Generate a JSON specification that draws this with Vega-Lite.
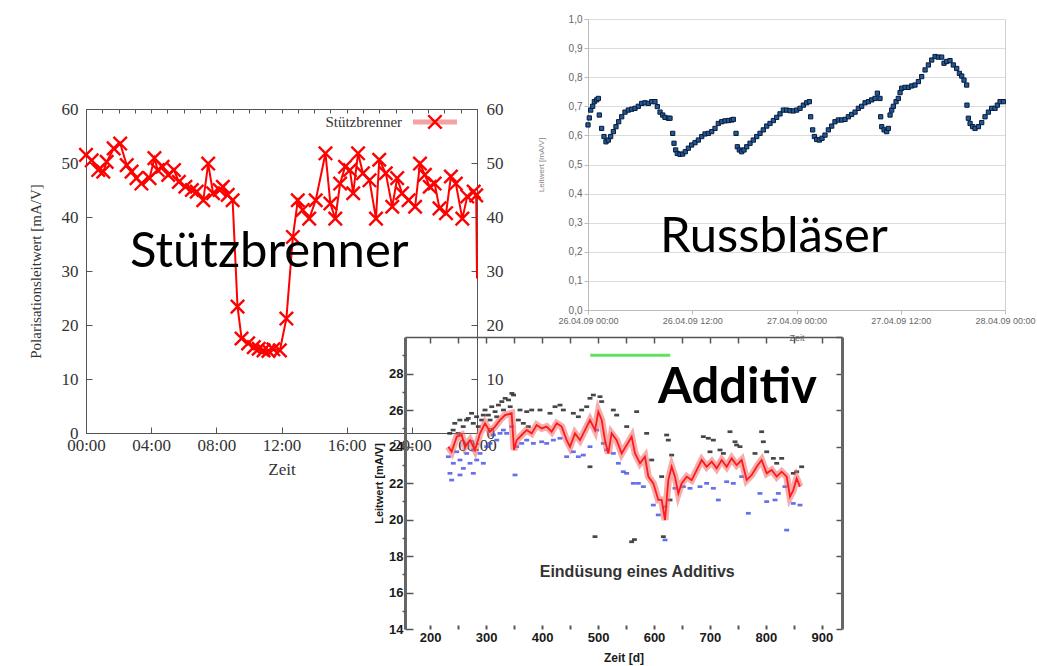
{
  "$schema": "https://vega.github.io/schema/vega-lite/v6.json",
  "width": 1037,
  "height": 666,
  "autosize": {"type": "none"},
  "padding": 0,
  "background": "white",
  "config": {
    "view": {"stroke": null},
    "axis": {"labelFlush": false, "labelOverlap": false, "grid": false}
  },
  "datasets": {
    "stuetz": [
      {"h":0,"v":51.5},{"h":0.35,"v":50.5},{"h":0.75,"v":48.7},{"h":1.06,"v":48.4},{"h":1.27,"v":50.2},{"h":1.7,"v":52.7},{"h":2.1,"v":53.6},{"h":2.5,"v":49.6},{"h":2.8,"v":48.4},{"h":3.1,"v":47.2},{"h":3.4,"v":46.2},{"h":3.9,"v":47.2},{"h":4.2,"v":50.9},{"h":4.4,"v":48.7},{"h":4.7,"v":49.3},{"h":5.05,"v":47.8},{"h":5.4,"v":48.7},{"h":5.7,"v":46.5},{"h":6.1,"v":45.6},{"h":6.5,"v":45.0},{"h":6.8,"v":44.7},{"h":7.2,"v":43.1},{"h":7.5,"v":49.9},{"h":7.8,"v":44.4},{"h":8.2,"v":45.0},{"h":8.4,"v":45.6},{"h":8.7,"v":44.1},{"h":9.0,"v":43.1},{"h":9.3,"v":23.4},{"h":9.55,"v":17.5},{"h":9.95,"v":16.6},{"h":10.3,"v":15.9},{"h":10.6,"v":15.6},{"h":10.9,"v":15.3},{"h":11.2,"v":15.2},{"h":11.5,"v":15.5},{"h":11.9,"v":15.3},{"h":12.3,"v":21.2},{"h":12.7,"v":36.3},{"h":13.0,"v":43.1},{"h":13.3,"v":41.3},{"h":13.7,"v":39.7},{"h":14.1,"v":43.1},{"h":14.7,"v":51.8},{"h":15.0,"v":42.5},{"h":15.3,"v":39.7},{"h":15.6,"v":46.2},{"h":15.9,"v":49.3},{"h":16.2,"v":48.7},{"h":16.4,"v":44.4},{"h":16.7,"v":51.8},{"h":17.0,"v":48.1},{"h":17.4,"v":46.8},{"h":17.8,"v":39.7},{"h":18.0,"v":50.6},{"h":18.4,"v":48.1},{"h":18.8,"v":41.9},{"h":19.1,"v":47.2},{"h":19.4,"v":44.4},{"h":19.8,"v":43.1},{"h":20.2,"v":41.9},{"h":20.5,"v":49.9},{"h":20.8,"v":47.8},{"h":21.1,"v":45.6},{"h":21.4,"v":46.2},{"h":21.7,"v":41.6},{"h":22.1,"v":40.7},{"h":22.4,"v":47.5},{"h":22.7,"v":46.2},{"h":23.1,"v":39.7},{"h":23.4,"v":43.8},{"h":23.8,"v":44.7},{"h":23.95,"v":44.0},{"h":24.0,"v":28.6}
    ],
    "russ": [
      {"h":0.0,"v":0.636},{"h":0.15,"v":0.660},{"h":0.31,"v":0.687},{"h":0.54,"v":0.700},{"h":0.73,"v":0.716},{"h":1.0,"v":0.722},{"h":1.19,"v":0.727},{"h":1.30,"v":0.670},{"h":1.57,"v":0.624},{"h":1.84,"v":0.596},{"h":2.07,"v":0.578},{"h":2.34,"v":0.584},{"h":2.61,"v":0.596},{"h":2.92,"v":0.613},{"h":3.22,"v":0.630},{"h":3.53,"v":0.647},{"h":3.88,"v":0.664},{"h":4.26,"v":0.680},{"h":4.64,"v":0.687},{"h":5.03,"v":0.690},{"h":5.41,"v":0.693},{"h":5.79,"v":0.700},{"h":6.18,"v":0.710},{"h":6.56,"v":0.712},{"h":6.95,"v":0.710},{"h":7.33,"v":0.716},{"h":7.71,"v":0.716},{"h":7.98,"v":0.699},{"h":8.29,"v":0.680},{"h":8.60,"v":0.670},{"h":8.86,"v":0.662},{"h":9.25,"v":0.659},{"h":9.44,"v":0.659},{"h":9.75,"v":0.607},{"h":9.90,"v":0.573},{"h":10.09,"v":0.550},{"h":10.28,"v":0.538},{"h":10.59,"v":0.535},{"h":10.90,"v":0.536},{"h":11.20,"v":0.544},{"h":11.55,"v":0.556},{"h":11.93,"v":0.567},{"h":12.32,"v":0.575},{"h":12.70,"v":0.584},{"h":13.09,"v":0.596},{"h":13.47,"v":0.605},{"h":13.85,"v":0.607},{"h":14.24,"v":0.613},{"h":14.62,"v":0.624},{"h":15.00,"v":0.641},{"h":15.39,"v":0.647},{"h":15.77,"v":0.650},{"h":16.16,"v":0.651},{"h":16.54,"v":0.653},{"h":16.73,"v":0.655},{"h":17.04,"v":0.607},{"h":17.19,"v":0.561},{"h":17.42,"v":0.550},{"h":17.69,"v":0.544},{"h":17.96,"v":0.550},{"h":18.27,"v":0.561},{"h":18.65,"v":0.573},{"h":19.03,"v":0.584},{"h":19.42,"v":0.596},{"h":19.80,"v":0.607},{"h":20.18,"v":0.619},{"h":20.57,"v":0.632},{"h":20.95,"v":0.641},{"h":21.34,"v":0.651},{"h":21.72,"v":0.662},{"h":22.10,"v":0.674},{"h":22.49,"v":0.687},{"h":22.87,"v":0.687},{"h":23.25,"v":0.685},{"h":23.64,"v":0.684},{"h":24.02,"v":0.687},{"h":24.41,"v":0.693},{"h":24.79,"v":0.704},{"h":25.17,"v":0.712},{"h":25.48,"v":0.716},{"h":25.63,"v":0.664},{"h":25.86,"v":0.619},{"h":26.06,"v":0.596},{"h":26.32,"v":0.586},{"h":26.63,"v":0.584},{"h":26.94,"v":0.590},{"h":27.28,"v":0.601},{"h":27.67,"v":0.619},{"h":28.05,"v":0.632},{"h":28.43,"v":0.647},{"h":28.82,"v":0.653},{"h":29.20,"v":0.653},{"h":29.59,"v":0.655},{"h":29.97,"v":0.664},{"h":30.35,"v":0.672},{"h":30.74,"v":0.680},{"h":31.12,"v":0.693},{"h":31.50,"v":0.700},{"h":31.89,"v":0.712},{"h":32.27,"v":0.716},{"h":32.65,"v":0.722},{"h":33.04,"v":0.727},{"h":33.31,"v":0.745},{"h":33.61,"v":0.727},{"h":33.69,"v":0.664},{"h":33.81,"v":0.630},{"h":34.08,"v":0.619},{"h":34.38,"v":0.613},{"h":34.57,"v":0.624},{"h":34.77,"v":0.670},{"h":34.96,"v":0.687},{"h":35.15,"v":0.700},{"h":35.46,"v":0.716},{"h":35.72,"v":0.727},{"h":35.92,"v":0.747},{"h":36.11,"v":0.762},{"h":36.49,"v":0.765},{"h":36.88,"v":0.765},{"h":37.26,"v":0.770},{"h":37.64,"v":0.773},{"h":38.03,"v":0.785},{"h":38.41,"v":0.802},{"h":38.80,"v":0.825},{"h":39.18,"v":0.842},{"h":39.56,"v":0.859},{"h":39.95,"v":0.871},{"h":40.33,"v":0.869},{"h":40.71,"v":0.869},{"h":40.98,"v":0.848},{"h":41.29,"v":0.854},{"h":41.67,"v":0.857},{"h":42.05,"v":0.842},{"h":42.44,"v":0.830},{"h":42.75,"v":0.813},{"h":43.02,"v":0.804},{"h":43.28,"v":0.790},{"h":43.59,"v":0.773},{"h":43.62,"v":0.704},{"h":43.78,"v":0.659},{"h":43.98,"v":0.641},{"h":44.28,"v":0.630},{"h":44.55,"v":0.624},{"h":44.94,"v":0.630},{"h":45.32,"v":0.644},{"h":45.70,"v":0.664},{"h":46.09,"v":0.680},{"h":46.47,"v":0.693},{"h":46.85,"v":0.693},{"h":47.12,"v":0.704},{"h":47.43,"v":0.716},{"h":47.81,"v":0.716}
    ],
    "addRed": [
      {"x":232.5,"y":23.99},{"x":238.4,"y":23.71},{"x":247.4,"y":24.54},{"x":256.3,"y":24.63},{"x":262.2,"y":23.99},{"x":271.2,"y":24.35},{"x":280.1,"y":23.81},{"x":289.1,"y":24.72},{"x":298.0,"y":25.27},{"x":306.9,"y":24.81},{"x":315.9,"y":25.09},{"x":324.8,"y":25.45},{"x":333.7,"y":25.72},{"x":345.6,"y":25.82},{"x":349.8,"y":23.81},{"x":354.6,"y":24.35},{"x":363.5,"y":24.63},{"x":372.5,"y":24.90},{"x":381.4,"y":24.72},{"x":390.3,"y":25.18},{"x":399.3,"y":24.99},{"x":408.2,"y":25.09},{"x":417.1,"y":24.81},{"x":426.1,"y":25.27},{"x":435.0,"y":25.09},{"x":443.9,"y":24.35},{"x":449.9,"y":23.99},{"x":458.8,"y":24.72},{"x":467.8,"y":24.35},{"x":476.7,"y":24.90},{"x":485.6,"y":25.45},{"x":494.6,"y":24.90},{"x":500.5,"y":25.91},{"x":506.5,"y":25.45},{"x":512.4,"y":24.35},{"x":518.4,"y":23.62},{"x":524.3,"y":24.72},{"x":533.3,"y":24.35},{"x":542.2,"y":23.62},{"x":551.2,"y":24.08},{"x":560.1,"y":24.54},{"x":566.1,"y":23.62},{"x":575.0,"y":23.08},{"x":583.9,"y":23.44},{"x":589.9,"y":22.35},{"x":598.8,"y":21.98},{"x":607.7,"y":21.07},{"x":613.7,"y":21.07},{"x":619.7,"y":19.97},{"x":625.6,"y":22.16},{"x":631.6,"y":22.89},{"x":637.5,"y":22.35},{"x":643.5,"y":21.43},{"x":649.4,"y":21.98},{"x":658.4,"y":22.35},{"x":667.3,"y":22.16},{"x":676.3,"y":22.71},{"x":685.2,"y":23.26},{"x":694.1,"y":22.89},{"x":703.1,"y":23.17},{"x":712.0,"y":22.80},{"x":720.9,"y":23.26},{"x":729.9,"y":22.89},{"x":738.8,"y":23.35},{"x":747.7,"y":22.98},{"x":756.7,"y":23.26},{"x":765.6,"y":22.16},{"x":774.6,"y":22.44},{"x":783.5,"y":22.89},{"x":792.4,"y":23.26},{"x":801.4,"y":22.53},{"x":810.3,"y":22.71},{"x":819.3,"y":22.35},{"x":828.2,"y":22.62},{"x":837.1,"y":22.35},{"x":843.1,"y":21.25},{"x":849.0,"y":21.61},{"x":855.0,"y":22.25},{"x":860.9,"y":21.80}
    ],
    "addBlack": [
      {"x":235,"y":24.72},{"x":241,"y":24.90},{"x":244,"y":25.27},{"x":250,"y":24.72},{"x":253,"y":25.45},{"x":259,"y":25.09},{"x":265,"y":25.45},{"x":268,"y":25.54},{"x":274,"y":25.82},{"x":277,"y":25.27},{"x":283,"y":25.63},{"x":286,"y":25.09},{"x":292,"y":25.45},{"x":295,"y":25.72},{"x":298,"y":26.0},{"x":304,"y":25.72},{"x":307,"y":25.45},{"x":310,"y":26.18},{"x":316,"y":25.91},{"x":319,"y":25.63},{"x":322,"y":26.27},{"x":328,"y":26.46},{"x":331,"y":26.0},{"x":334,"y":26.64},{"x":340,"y":26.55},{"x":343,"y":26.18},{"x":346,"y":26.91},{"x":349,"y":26.82},{"x":357.6,"y":25.45},{"x":366.5,"y":25.27},{"x":375.4,"y":25.09},
      {"x":360.5,"y":26.0},{"x":372.5,"y":25.91},{"x":381.4,"y":26.0},{"x":396.3,"y":26.0},{"x":414.2,"y":25.82},{"x":423.1,"y":26.18},{"x":432,"y":26.27},{"x":438,"y":26.0},{"x":455.9,"y":25.82},{"x":464.8,"y":25.63},{"x":470.7,"y":26.0},{"x":479.7,"y":26.18},{"x":485.6,"y":26.64},{"x":491.6,"y":26.82},{"x":503.5,"y":26.73},{"x":506.5,"y":26.46},{"x":485.6,"y":22.89},{"x":494.6,"y":19.06},{"x":527.3,"y":26.0},{"x":533.3,"y":25.72},{"x":551.2,"y":25.09},{"x":569,"y":25.91},{"x":586.9,"y":24.72},{"x":595.9,"y":23.26},{"x":613.7,"y":22.35},{"x":622.6,"y":24.63},{"x":625.6,"y":24.35},{"x":631.6,"y":23.53},{"x":628.6,"y":21.07},{"x":616.7,"y":19.06},{"x":560.1,"y":18.78},{"x":565,"y":18.9},{"x":688.2,"y":24.54},{"x":697.1,"y":24.45},{"x":706.1,"y":24.35},{"x":718,"y":23.81},{"x":735.8,"y":24.81},{"x":744.8,"y":24.26},{"x":747.7,"y":24.08},{"x":753.7,"y":23.99},{"x":780.5,"y":23.62},{"x":792.4,"y":24.81},{"x":795.4,"y":24.26},{"x":801.4,"y":23.71},{"x":813.3,"y":23.35},{"x":819.3,"y":23.08},{"x":828.2,"y":23.35},{"x":849,"y":22.53},{"x":855,"y":22.62},{"x":863.9,"y":22.89},{"x":700.1,"y":23.71},{"x":724,"y":23.62}
    ],
    "addBlue": [
      {"x":232.5,"y":23.44},{"x":235.4,"y":22.53},{"x":238.4,"y":22.16},{"x":241.4,"y":23.08},{"x":247.4,"y":23.71},{"x":253.3,"y":23.26},{"x":253.3,"y":22.44},{"x":259.3,"y":22.80},{"x":265.2,"y":23.62},{"x":271.2,"y":23.08},{"x":277.1,"y":23.81},{"x":277.1,"y":22.53},{"x":283.1,"y":23.26},{"x":289.1,"y":23.62},{"x":295.0,"y":23.08},{"x":301.0,"y":23.99},{"x":306.9,"y":24.17},{"x":312.9,"y":24.63},{"x":318.9,"y":24.35},{"x":324.8,"y":24.72},{"x":330.8,"y":24.90},{"x":336.7,"y":24.72},{"x":345.6,"y":25.09},{"x":351.6,"y":22.44},{"x":354.6,"y":23.99},{"x":363.5,"y":24.17},{"x":372.5,"y":24.35},
      {"x":384.4,"y":24.17},{"x":399.3,"y":24.26},{"x":408.2,"y":24.17},{"x":420.1,"y":24.35},{"x":432.0,"y":24.45},{"x":443.9,"y":23.44},{"x":455.9,"y":23.71},{"x":464.8,"y":23.44},{"x":473.7,"y":23.53},{"x":485.6,"y":23.99},{"x":497.6,"y":24.90},{"x":509.5,"y":24.17},{"x":515.4,"y":23.81},{"x":527.3,"y":23.62},{"x":536.3,"y":23.08},{"x":545.2,"y":22.62},{"x":551.2,"y":22.53},{"x":563.1,"y":21.98},{"x":572.0,"y":21.98},{"x":581.0,"y":21.80},{"x":598.8,"y":20.79},{"x":607.7,"y":20.25},{"x":619.7,"y":20.70},{"x":619.7,"y":18.88},{"x":637.5,"y":21.71},{"x":652.4,"y":21.80},{"x":664.3,"y":21.71},{"x":682.2,"y":21.80},{"x":694.1,"y":21.98},{"x":706.1,"y":21.71},{"x":715.0,"y":21.07},{"x":729.9,"y":22.07},{"x":741.8,"y":21.98},{"x":756.7,"y":22.35},{"x":768.6,"y":20.34},{"x":789.4,"y":21.43},{"x":801.4,"y":20.98},{"x":816.3,"y":21.07},{"x":822.2,"y":21.43},{"x":834.1,"y":21.80},{"x":837.1,"y":19.42},{"x":849.0,"y":20.88},{"x":860.9,"y":20.79}
    ]
  },
  "layer": [
    {
      "layer": [
        {
          "data": {"name": "stuetz"},
          "mark": {"type": "line", "color": "#ff0000", "strokeWidth": 2},
          "encoding": {
            "x": {"field": "h", "type": "quantitative",
              "scale": {"domain": [0, 24], "range": [86, 477], "nice": false, "zero": false},
              "axis": {"orient": "bottom", "offset": -233, "values": [0, 4, 8, 12, 16, 20, 24],
                "labelExpr": "(datum.value % 24 < 10 ? '0' : '') + (datum.value % 24) + ':00'",
                "labelFont": "Liberation Serif", "labelFontSize": 17, "labelColor": "#333", "labelPadding": 10,
                "tickSize": -6, "tickColor": "#555", "domainColor": "#555",
                "title": "Zeit", "titleFont": "Liberation Serif", "titleFontSize": 17, "titleFontWeight": "normal", "titleColor": "#333", "titlePadding": 8}},
            "y": {"field": "v", "type": "quantitative",
              "scale": {"domain": [0, 60], "range": [433, 109], "nice": false, "zero": false},
              "axis": {"orient": "left", "offset": -86, "values": [0, 10, 20, 30, 40, 50, 60],
                "labelFont": "Liberation Serif", "labelFontSize": 17, "labelColor": "#333", "labelPadding": 14,
                "tickSize": -6, "tickColor": "#555", "domainColor": "#555",
                "title": "Polarisationsleitwert [mA/V]", "titleFont": "Liberation Serif", "titleFontSize": 15, "titleFontWeight": "normal", "titleColor": "#333", "titlePadding": 18}}
          }
        },
        {
          "data": {"name": "stuetz"},
          "transform": [{"filter": "datum.h < 24"}],
          "mark": {"type": "point", "shape": "M-1,-1L1,1M-1,1L1,-1", "filled": false, "stroke": "#ff0000", "strokeWidth": 2.4, "size": 180, "opacity": 1},
          "encoding": {
            "x": {"field": "h", "type": "quantitative",
              "axis": {"orient": "top", "offset": -109, "values": [0,1,2,3,4,5,6,7,8,9,10,11,12,13,14,15,16,17,18,19,20,21,22,23,24],
                "labels": false, "tickSize": -4, "tickColor": "#555", "domainColor": "#555", "title": null}},
            "y": {"field": "v", "type": "quantitative",
              "axis": {"orient": "right", "offset": -560, "values": [0, 10, 20, 30, 40, 50, 60],
                "labelFont": "Liberation Serif", "labelFontSize": 17, "labelColor": "#333", "labelPadding": 15,
                "tickSize": -6, "tickColor": "#555", "domainColor": "#555", "title": null}}
          }
        },
        {
          "data": {"values": [{}]},
          "mark": {"type": "rule", "color": "#f28b8b", "strokeWidth": 5, "opacity": 0.8},
          "encoding": {
            "x": {"datum": 20.07, "type": "quantitative", "axis": null},
            "x2": {"datum": 22.77},
            "y": {"datum": 57.6, "type": "quantitative", "axis": null}
          }
        },
        {
          "data": {"values": [{}]},
          "mark": {"type": "point", "shape": "M-1,-1L1,1M-1,1L1,-1", "filled": false, "stroke": "#ff0000", "strokeWidth": 2.4, "size": 180, "opacity": 1},
          "encoding": {
            "x": {"datum": 21.42, "type": "quantitative", "axis": null},
            "y": {"datum": 57.6, "type": "quantitative", "axis": null}
          }
        },
        {
          "data": {"values": [{}]},
          "mark": {"type": "text", "text": "Stützbrenner", "font": "Liberation Serif", "fontSize": 15, "color": "#333", "align": "right", "baseline": "middle"},
          "encoding": {
            "x": {"datum": 19.4, "type": "quantitative", "axis": null},
            "y": {"datum": 57.6, "type": "quantitative", "axis": null}
          }
        },
        {
          "data": {"values": [{}]},
          "mark": {"type": "text", "text": "Stützbrenner", "font": "Lato", "fontSize": 49, "color": "#000", "align": "left", "baseline": "alphabetic"},
          "encoding": {
            "x": {"datum": 2.7, "type": "quantitative", "axis": null},
            "y": {"datum": 30.74, "type": "quantitative", "axis": null}
          }
        }
      ],
      "resolve": {"axis": {"x": "independent", "y": "independent"}}
    },
    {
      "layer": [
        {
          "data": {"name": "russ"},
          "mark": {"type": "point", "shape": "square", "filled": true, "fill": "#1f5a9e", "stroke": "#0b1a33", "strokeWidth": 1, "size": 18, "opacity": 1},
          "encoding": {
            "x": {"field": "h", "type": "quantitative",
              "scale": {"domain": [0, 48], "range": [588, 1005], "nice": false, "zero": false},
              "axis": {"orient": "bottom", "offset": -356, "values": [0, 12, 24, 36, 48],
                "labelExpr": "['26.04.09 00:00','26.04.09 12:00','27.04.09 00:00','27.04.09 12:00','28.04.09 00:00'][datum.value / 12]",
                "labelFont": "Liberation Sans", "labelFontSize": 9, "labelColor": "#666", "labelPadding": 2,
                "tickSize": 4, "tickColor": "#bbb", "domainColor": "#bbb",
                "title": "Zeit", "titleFont": "Liberation Sans", "titleFontSize": 9, "titleFontWeight": "normal", "titleColor": "#666", "titlePadding": 8}},
            "y": {"field": "v", "type": "quantitative",
              "scale": {"domain": [0, 1], "range": [310, 19], "nice": false, "zero": false},
              "axis": {"orient": "left", "offset": -588, "values": [0, 0.1, 0.2, 0.3, 0.4, 0.5, 0.6, 0.7, 0.8, 0.9, 1],
                "labelExpr": "replace(format(datum.value, '.1f'), '.', ',')",
                "labelFont": "Liberation Sans", "labelFontSize": 10, "labelColor": "#666", "labelPadding": 2,
                "tickSize": 4, "tickColor": "#bbb", "domainColor": "#bbb",
                "grid": true, "gridColor": "#dcdcdc", "gridWidth": 1,
                "title": "Leitwert [mA/V]", "titleFont": "Liberation Sans", "titleFontSize": 8, "titleFontWeight": "normal", "titleColor": "#888", "titlePadding": 23}}
          }
        },
        {
          "data": {"values": [{}]},
          "mark": {"type": "text", "text": "Russbläser", "font": "Lato", "fontSize": 49, "color": "#000", "align": "left", "baseline": "alphabetic"},
          "encoding": {
            "x": {"datum": 8.29, "type": "quantitative", "axis": null},
            "y": {"datum": 0.199, "type": "quantitative",
              "axis": {"orient": "right", "offset": -32, "labels": false, "ticks": false, "domainColor": "#d0d0d0", "title": null}}
          }
        }
      ],
      "resolve": {"axis": {"x": "independent", "y": "independent"}}
    },
    {
      "layer": [
        {
          "data": {"name": "addBlack"},
          "mark": {"type": "point", "shape": "M-1,-0.55H1V0.55H-1Z", "filled": true, "fill": "#333", "strokeWidth": 0, "size": 24, "opacity": 0.9},
          "encoding": {
            "x": {"field": "x", "type": "quantitative",
              "scale": {"domain": [155, 936], "range": [405, 842], "nice": false, "zero": false},
              "axis": {"orient": "bottom", "offset": -37, "values": [200,250,300,350,400,450,500,550,600,650,700,750,800,850,900],
                "labelExpr": "datum.value % 100 == 0 ? datum.label : ''",
                "labelFont": "Liberation Sans", "labelFontSize": 13, "labelFontWeight": "bold", "labelColor": "#1a1a1a", "labelPadding": 6,
                "domain": false, "tickSize": -4, "tickWidth": 2, "tickColor": "#555",
                "title": "Zeit [d]", "titleFont": "Liberation Sans", "titleFontSize": 12, "titleFontWeight": "bold", "titleColor": "#1a1a1a", "titlePadding": 8}},
            "y": {"field": "y", "type": "quantitative",
              "scale": {"domain": [14, 30], "range": [629, 337], "nice": false, "zero": false},
              "axis": {"orient": "left", "offset": -405, "values": [14, 16, 18, 20, 22, 24, 26, 28],
                "labelFont": "Liberation Sans", "labelFontSize": 13, "labelFontWeight": "bold", "labelColor": "#1a1a1a", "labelPadding": 10,
                "tickSize": -8, "tickWidth": 1.5, "tickColor": "#555", "domainColor": "#666", "domainWidth": 3,
                "title": "Leitwert [mA/V]", "titleFont": "Liberation Sans", "titleFontSize": 11, "titleFontWeight": "bold", "titleColor": "#1a1a1a", "titlePadding": 4}}
          }
        },
        {
          "data": {"name": "addBlue"},
          "mark": {"type": "point", "shape": "M-1,-0.55H1V0.55H-1Z", "filled": true, "fill": "#3d4ee6", "strokeWidth": 0, "size": 24, "opacity": 0.8},
          "encoding": {
            "x": {"field": "x", "type": "quantitative",
              "axis": {"orient": "top", "offset": -337, "values": [200,250,300,350,400,450,500,550,600,650,700,750,800,850,900],
                "labels": false, "tickSize": -6, "tickWidth": 1.5, "tickColor": "#555", "domainColor": "#555", "domainWidth": 1.5, "title": null}},
            "y": {"field": "y", "type": "quantitative",
              "axis": {"orient": "right", "offset": -195, "values": [14, 16, 18, 20, 22, 24, 26, 28, 30],
                "labels": false, "tickSize": -6, "tickWidth": 1.5, "tickColor": "#555", "domainColor": "#666", "domainWidth": 3, "title": null}}
          }
        },
        {
          "data": {"name": "addRed"},
          "mark": {"type": "line", "color": "#f06868", "strokeWidth": 7, "opacity": 0.55},
          "encoding": {
            "x": {"field": "x", "type": "quantitative", "axis": null},
            "y": {"field": "y", "type": "quantitative",
              "axis": {"orient": "left", "offset": -405, "values": [15, 17, 19, 21, 23, 25, 27, 29],
                "labels": false, "domain": false, "tickSize": 3, "tickWidth": 1.5, "tickColor": "#555", "title": null}}
          }
        },
        {
          "data": {"name": "addRed"},
          "mark": {"type": "line", "color": "#ff1a1a", "strokeWidth": 1.8},
          "encoding": {
            "x": {"field": "x", "type": "quantitative", "axis": null},
            "y": {"field": "y", "type": "quantitative", "axis": null}
          }
        },
        {
          "data": {"values": [{}]},
          "mark": {"type": "rule", "color": "#5ee35e", "strokeWidth": 3},
          "encoding": {
            "x": {"datum": 486, "type": "quantitative", "axis": null},
            "x2": {"datum": 629},
            "y": {"datum": 29.0, "type": "quantitative", "axis": null}
          }
        },
        {
          "data": {"values": [{}]},
          "mark": {"type": "text", "text": "Eindüsung eines Additivs", "font": "Liberation Sans", "fontSize": 16, "fontWeight": "bold", "color": "#333", "align": "center", "baseline": "middle"},
          "encoding": {
            "x": {"datum": 570, "type": "quantitative", "axis": null},
            "y": {"datum": 17.1, "type": "quantitative", "axis": null}
          }
        },
        {
          "data": {"values": [{}]},
          "mark": {"type": "text", "text": "Additiv", "font": "Lato", "fontSize": 49, "fontWeight": "bold", "color": "#000", "align": "left", "baseline": "alphabetic"},
          "encoding": {
            "x": {"datum": 607, "type": "quantitative", "axis": null},
            "y": {"datum": 26.38, "type": "quantitative", "axis": null}
          }
        }
      ],
      "resolve": {"axis": {"x": "independent", "y": "independent"}}
    }
  ],
  "resolve": {
    "scale": {"x": "independent", "y": "independent"},
    "axis": {"x": "independent", "y": "independent"}
  }
}
